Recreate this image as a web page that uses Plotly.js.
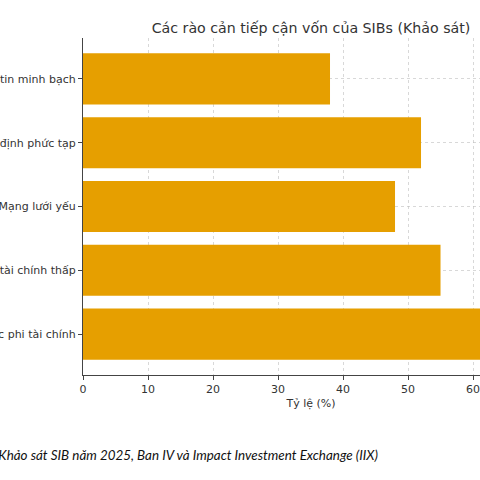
<!DOCTYPE html>
<html>
<head>
<meta charset="utf-8">
<script src="https://cdn.plot.ly/plotly-3.0.1.min.js"></script>
<style>
  html, body { margin: 0; padding: 0; background: #fff; width: 480px; height: 480px; overflow: hidden; }
  /* the reference is a crop of a wider figure: draw the whole figure, let the window cut it */
  #plot { position: absolute; left: -150px; top: 0; width: 719px; height: 480px; }
</style>
</head>
<body>
<div id="plot"></div>
<script>
// barriers listed top to bottom
const barriers = [
    'Thiếu thông tin minh bạch',
    'Quy định phức tạp',
    'Mạng lưới yếu',
    'Hiểu biết tài chính thấp',
    'Thiếu nguồn lực phi tài chính',
];
const shares = [38, 52, 48, 55, 67];
const xTicks = [0, 10, 20, 30, 40, 50, 60, 70];

const trace = {
    type: 'bar',
    orientation: 'h',
    y: barriers,
    x: shares,
    marker: {
        color: '#E69F00',
        line: { width: 0 },
    },
    hoverinfo: 'none',
};

const layout = {
    width: 719,
    height: 480,
    margin: { l: 233, r: 30, t: 38, b: 105 },
    paper_bgcolor: '#fff',
    plot_bgcolor: '#fff',
    showlegend: false,
    bargap: 0.2,
    font: { family: 'DejaVu Sans', size: 11, color: '#333' },
    title: {
        text: 'Các rào cản tiếp cận vốn của SIBs (Khảo sát)',
        font: { family: 'DejaVu Sans', size: 14.2, color: '#333' },
        xref: 'paper',
        x: 0.5,
        xanchor: 'center',
        yref: 'container',
        y: 0.942,
        yanchor: 'middle',
    },
    xaxis: {
        range: [0, 70.15],
        tickvals: xTicks,
        ticks: 'outside',
        ticklen: 4,
        tickcolor: '#444',
        showline: true,
        linecolor: '#444',
        linewidth: 1,
        showgrid: true,
        gridcolor: 'rgba(190,190,190,0.6)',
        griddash: 'dot',
        zeroline: false,
        layer: 'above traces',
        title: {
            text: 'Tỷ lệ (%)',
            font: { size: 11, color: '#333' },
            standoff: 4,
        },
    },
    yaxis: {
        type: 'category',
        categoryorder: 'array',
        categoryarray: barriers,
        range: [4.64, -0.64],
        ticks: 'outside',
        ticklen: 4,
        tickcolor: '#444',
        showline: true,
        linecolor: '#444',
        linewidth: 1,
        showgrid: true,
        gridcolor: 'rgba(190,190,190,0.6)',
        griddash: 'dot',
        zeroline: false,
        automargin: false,
        layer: 'above traces',
    },
    annotations: [{
        text: '<i>Nguồn: Khảo sát SIB năm 2025, Ban IV và Impact Investment Exchange (IIX)</i>',
        xref: 'paper',
        yref: 'paper',
        x: 0.651,
        y: -0.237,
        xanchor: 'right',
        yanchor: 'middle',
        showarrow: false,
        font: { family: 'Lato', size: 13.4, color: '#111' },
    }],
};

const config = {
    staticPlot: true,
    displayModeBar: false,
};

Plotly.newPlot('plot', [trace], layout, config);
</script>
</body>
</html>
